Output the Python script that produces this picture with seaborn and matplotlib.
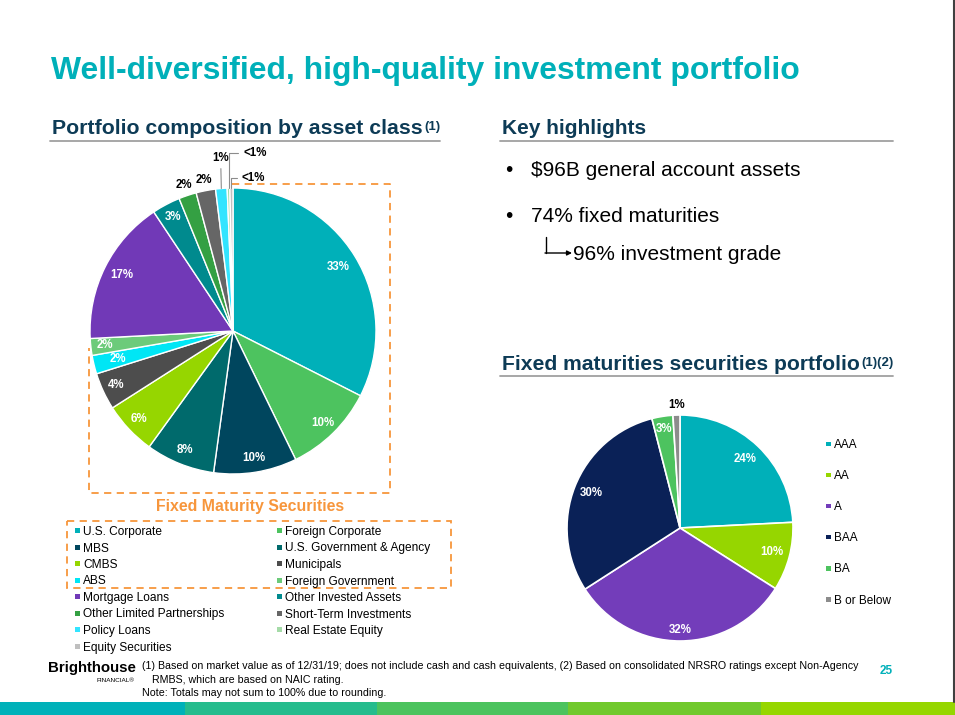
import matplotlib
matplotlib.use("Agg")
import matplotlib.pyplot as plt
import seaborn as sns
import numpy as np
from matplotlib.patches import Rectangle

sns.set_theme(style="white")
plt.rcParams["font.family"] = ["Liberation Sans", "DejaVu Sans"]

# ---------------- data ----------------
asset_classes = ["U.S. Corporate", "Foreign Corporate", "MBS", "U.S. Government & Agency",
                 "CMBS", "Municipals", "ABS", "Foreign Government", "Mortgage Loans",
                 "Other Invested Assets", "Other Limited Partnerships", "Short-Term Investments",
                 "Policy Loans", "Real Estate Equity", "Equity Securities"]
asset_share = [32.5, 10.3, 9.4, 7.8, 6.0, 4.2, 2.1, 1.9, 16.5, 3.2, 2.0, 2.2, 1.3, 0.3, 0.35]
asset_labels = ["33%", "10%", "10%", "8%", "6%", "4%", "2%", "2%", "17%", "3%",
                "2%", "2%", "1%", "<1%", "<1%"]
asset_colors = sns.color_palette(["#00B0B9", "#4DC35F", "#00465E", "#006A6C", "#96D600",
                                  "#4D4D4D", "#00E6F5", "#6CCB7A", "#7139B7", "#008A8E",
                                  "#34A043", "#666666", "#33E4FF", "#A5DBA8", "#BFBFBF"])

ratings = ["AAA", "AA", "A", "BAA", "BA", "B or Below"]
rating_share = [24.2, 9.8, 31.9, 30.1, 3.0, 1.0]
rating_labels = ["24%", "10%", "32%", "30%", "3%", "1%"]
rating_colors = sns.color_palette(["#00B0B9", "#96D600", "#733DBA", "#0A2157", "#4DC35F", "#8C8C8C"])

highlights = ["$96B general account assets", "74% fixed maturities"]
sub_highlight = "96% investment grade"

TEAL = "#00B0B9"
NAVY = "#0D3B56"
ORANGE = "#F7963C"
GRAY_LINE = "#A0A0A0"

W, H = 955, 715
fig = plt.figure(figsize=(W / 100, H / 100), dpi=100)
fig.patch.set_facecolor("white")

# overlay axes in pixel coordinates (y downward)
ov = fig.add_axes([0, 0, 1, 1])
ov.set_xlim(0, W)
ov.set_ylim(H, 0)
ov.axis("off")

renderer = fig.canvas.get_renderer()


def fit_width(t, target):
    for _ in range(3):
        w = t.get_window_extent(renderer).width
        t.set_fontsize(t.get_fontsize() * target / w)


def add_sup(t, s, size=9.5):
    bb = t.get_window_extent(renderer)
    x = bb.x1 + 1.5
    y = H - bb.y1 + 11
    ov.text(x, y, s, fontsize=size, fontweight="bold", color=NAVY, va="baseline", ha="left")


# ---------------- title & headers ----------------
t = ov.text(51, 79, "Well-diversified, high-quality investment portfolio", fontsize=23,
            fontweight="bold", color=TEAL, va="baseline", ha="left")
fit_width(t, 748)

h1 = ov.text(52, 134, "Portfolio composition by asset class", fontsize=15, fontweight="bold",
             color=NAVY, va="baseline", ha="left")
fit_width(h1, 370)
add_sup(h1, "(1)")
ov.plot([50, 440], [140.5, 140.5], color=GRAY_LINE, lw=1.3)

h2 = ov.text(502, 134, "Key highlights", fontsize=15, fontweight="bold", color=NAVY,
             va="baseline", ha="left")
ov.plot([500, 893], [141, 141], color=GRAY_LINE, lw=1.3)

h3 = ov.text(502, 370, "Fixed maturities securities portfolio", fontsize=15, fontweight="bold",
             color=NAVY, va="baseline", ha="left")
fit_width(h3, 358)
add_sup(h3, "(1)(2)")
ov.plot([500, 893], [375.5, 375.5], color=GRAY_LINE, lw=1.3)

# bullets
for i, txt in enumerate(highlights):
    yb = [176, 222][i]
    ov.text(505, yb, "•", fontsize=15, color="black", va="baseline", ha="left")
    ov.text(531, yb, txt, fontsize=15, color="black", va="baseline", ha="left")
ov.plot([545.5, 545.5], [237, 253], color="black", lw=1.0)
ov.annotate("", xy=(572, 253), xytext=(545, 253),
            arrowprops=dict(arrowstyle="-|>", lw=1.0, color="black", mutation_scale=7,
                            shrinkA=0, shrinkB=0))
ov.text(573, 260, sub_highlight, fontsize=15, color="black", va="baseline", ha="left")

# ---------------- left pie ----------------
cxL, cyL, rL, kL = 233, 331, 143, 1.3
axL = fig.add_axes([(cxL - kL * rL) / W, (H - cyL - kL * rL) / H, 2 * kL * rL / W, 2 * kL * rL / H])
wedgesL, _ = axL.pie(asset_share, colors=asset_colors, startangle=90, counterclock=False,
                     radius=1, wedgeprops=dict(edgecolor="white", linewidth=1.0))
axL.set_xlim(-kL, kL)
axL.set_ylim(-kL, kL)
axL.set_aspect("equal")
axL.axis("off")

r_override = {0: 0.86, 6: 0.83, 7: 0.9, 8: 0.87}
for i, (w, lab) in enumerate(zip(wedgesL, asset_labels)):
    ang = np.deg2rad((w.theta1 + w.theta2) / 2)
    if i < 10:
        r = r_override.get(i, 0.9)
        axL.text(r * np.cos(ang), r * np.sin(ang), lab, color="white", fontweight="bold",
                 fontsize=8.3, ha="center", va="center")
    elif i in (10, 11):
        r = 1.075
        axL.text(r * np.cos(ang), r * np.sin(ang), lab, color="black", fontweight="bold",
                 fontsize=8.3, ha="center", va="center")
    elif i == 12:
        xe = np.cos(ang)
        axL.annotate(lab, xy=(xe, np.sin(ang)), xytext=(xe - 0.005, 1.21), fontsize=8.3,
                     fontweight="bold", color="black", ha="center", va="center",
                     arrowprops=dict(arrowstyle="-", color="#8C8C8C", lw=0.8, shrinkA=1, shrinkB=0))
    else:
        ty = 1.245 if i == 13 else 1.07
        tx = 0.07 if i == 13 else 0.06
        axL.annotate(lab, xy=(np.cos(ang), np.sin(ang)), xytext=(tx, ty), fontsize=8.3,
                     fontweight="bold", color="black", ha="left", va="center",
                     arrowprops=dict(arrowstyle="-", color="#8C8C8C", lw=0.8, shrinkA=1, shrinkB=0,
                                     connectionstyle="angle,angleA=0,angleB=90,rad=0"))

# orange dashed outline around the fixed maturity wedges
ov.plot([232, 390, 390, 89, 89], [184, 184, 493, 493, 348], color=ORANGE, lw=1.3,
        linestyle=(0, (4, 3)))
ov.text(250, 507, "Fixed Maturity Securities", fontsize=11.4, fontweight="bold", color=ORANGE,
        ha="center", va="center")
ov.add_patch(Rectangle((67, 521), 384, 67, fill=False, edgecolor=ORANGE, lw=1.3,
                       linestyle=(0, (4, 3))))

# left legend (row-wise, two columns)
for i, (name, col) in enumerate(zip(asset_classes, asset_colors)):
    row, c = divmod(i, 2)
    yc = 530.7 + 16.5 * row
    xm = [75.3, 277.0][c]
    ov.add_patch(Rectangle((xm, yc - 2.35), 4.7, 4.7, facecolor=col, edgecolor="none"))
    ov.text(xm + 8.0, yc + 4.3, name, fontsize=8.6, color="black", va="baseline", ha="left")

# ---------------- right pie ----------------
cxR, cyR, rR, kR = 680, 528, 113, 1.3
axR = fig.add_axes([(cxR - kR * rR) / W, (H - cyR - kR * rR) / H, 2 * kR * rR / W, 2 * kR * rR / H])
wedgesR, _ = axR.pie(rating_share, colors=rating_colors, startangle=90, counterclock=False,
                     radius=1, wedgeprops=dict(edgecolor="white", linewidth=1.2))
axR.set_xlim(-kR, kR)
axR.set_ylim(-kR, kR)
axR.set_aspect("equal")
axR.axis("off")
rr_override = {2: 0.9, 4: 0.89}
for i, (w, lab) in enumerate(zip(wedgesR, rating_labels)):
    ang = np.deg2rad((w.theta1 + w.theta2) / 2)
    if i < 5:
        r = rr_override.get(i, 0.84)
        axR.text(r * np.cos(ang), r * np.sin(ang), lab, color="white", fontweight="bold",
                 fontsize=8.3, ha="center", va="center")
    else:
        r = 1.09
        axR.text(r * np.cos(ang), r * np.sin(ang), lab, color="black", fontweight="bold",
                 fontsize=8.3, ha="center", va="center")

for i, (name, col) in enumerate(zip(ratings, rating_colors)):
    yc = 443.8 + 31.1 * i
    ov.add_patch(Rectangle((826, yc - 2.3), 4.6, 4.6, facecolor=col, edgecolor="none"))
    ov.text(834, yc + 4.3, name, fontsize=8.5, color="black", va="baseline", ha="left")

# ---------------- footer ----------------
ov.text(48, 672, "Brighthouse", fontsize=10.8, fontweight="bold", color="black", va="baseline")
ov.text(134, 681.5, "FINANCIAL\u00ae", fontsize=4.6, color="black", va="baseline", ha="right")
f1 = ov.text(141.5, 669, "(1) Based on market value as of 12/31/19; does not include cash and cash "
             "equivalents, (2) Based on consolidated NRSRO ratings except Non-Agency",
             fontsize=7, color="black", va="baseline")
fit_width(f1, 715)
fs = f1.get_fontsize()
ov.text(152, 683, "RMBS, which are based on NAIC rating.", fontsize=fs, color="black",
        va="baseline")
ov.text(141.5, 696, "Note: Totals may not sum to 100% due to rounding.", fontsize=fs,
        color="black", va="baseline")
ov.text(886.5, 671, "25", fontsize=8.5, fontweight="bold", color=TEAL, ha="center", va="center")

bar_edges = [0, 185, 377, 568, 761, 955]
bar_colors = ["#00B1B9", "#26BC8D", "#4CC35E", "#71C92D", "#96D600"]
for x0, x1, c in zip(bar_edges[:-1], bar_edges[1:], bar_colors):
    ov.add_patch(Rectangle((x0, 702), x1 - x0, 13, facecolor=c, edgecolor="none"))
ov.plot([953.5, 953.5], [0, 702], color="#404040", lw=1.5)

fig.savefig("out.png", dpi=100, facecolor="white")
